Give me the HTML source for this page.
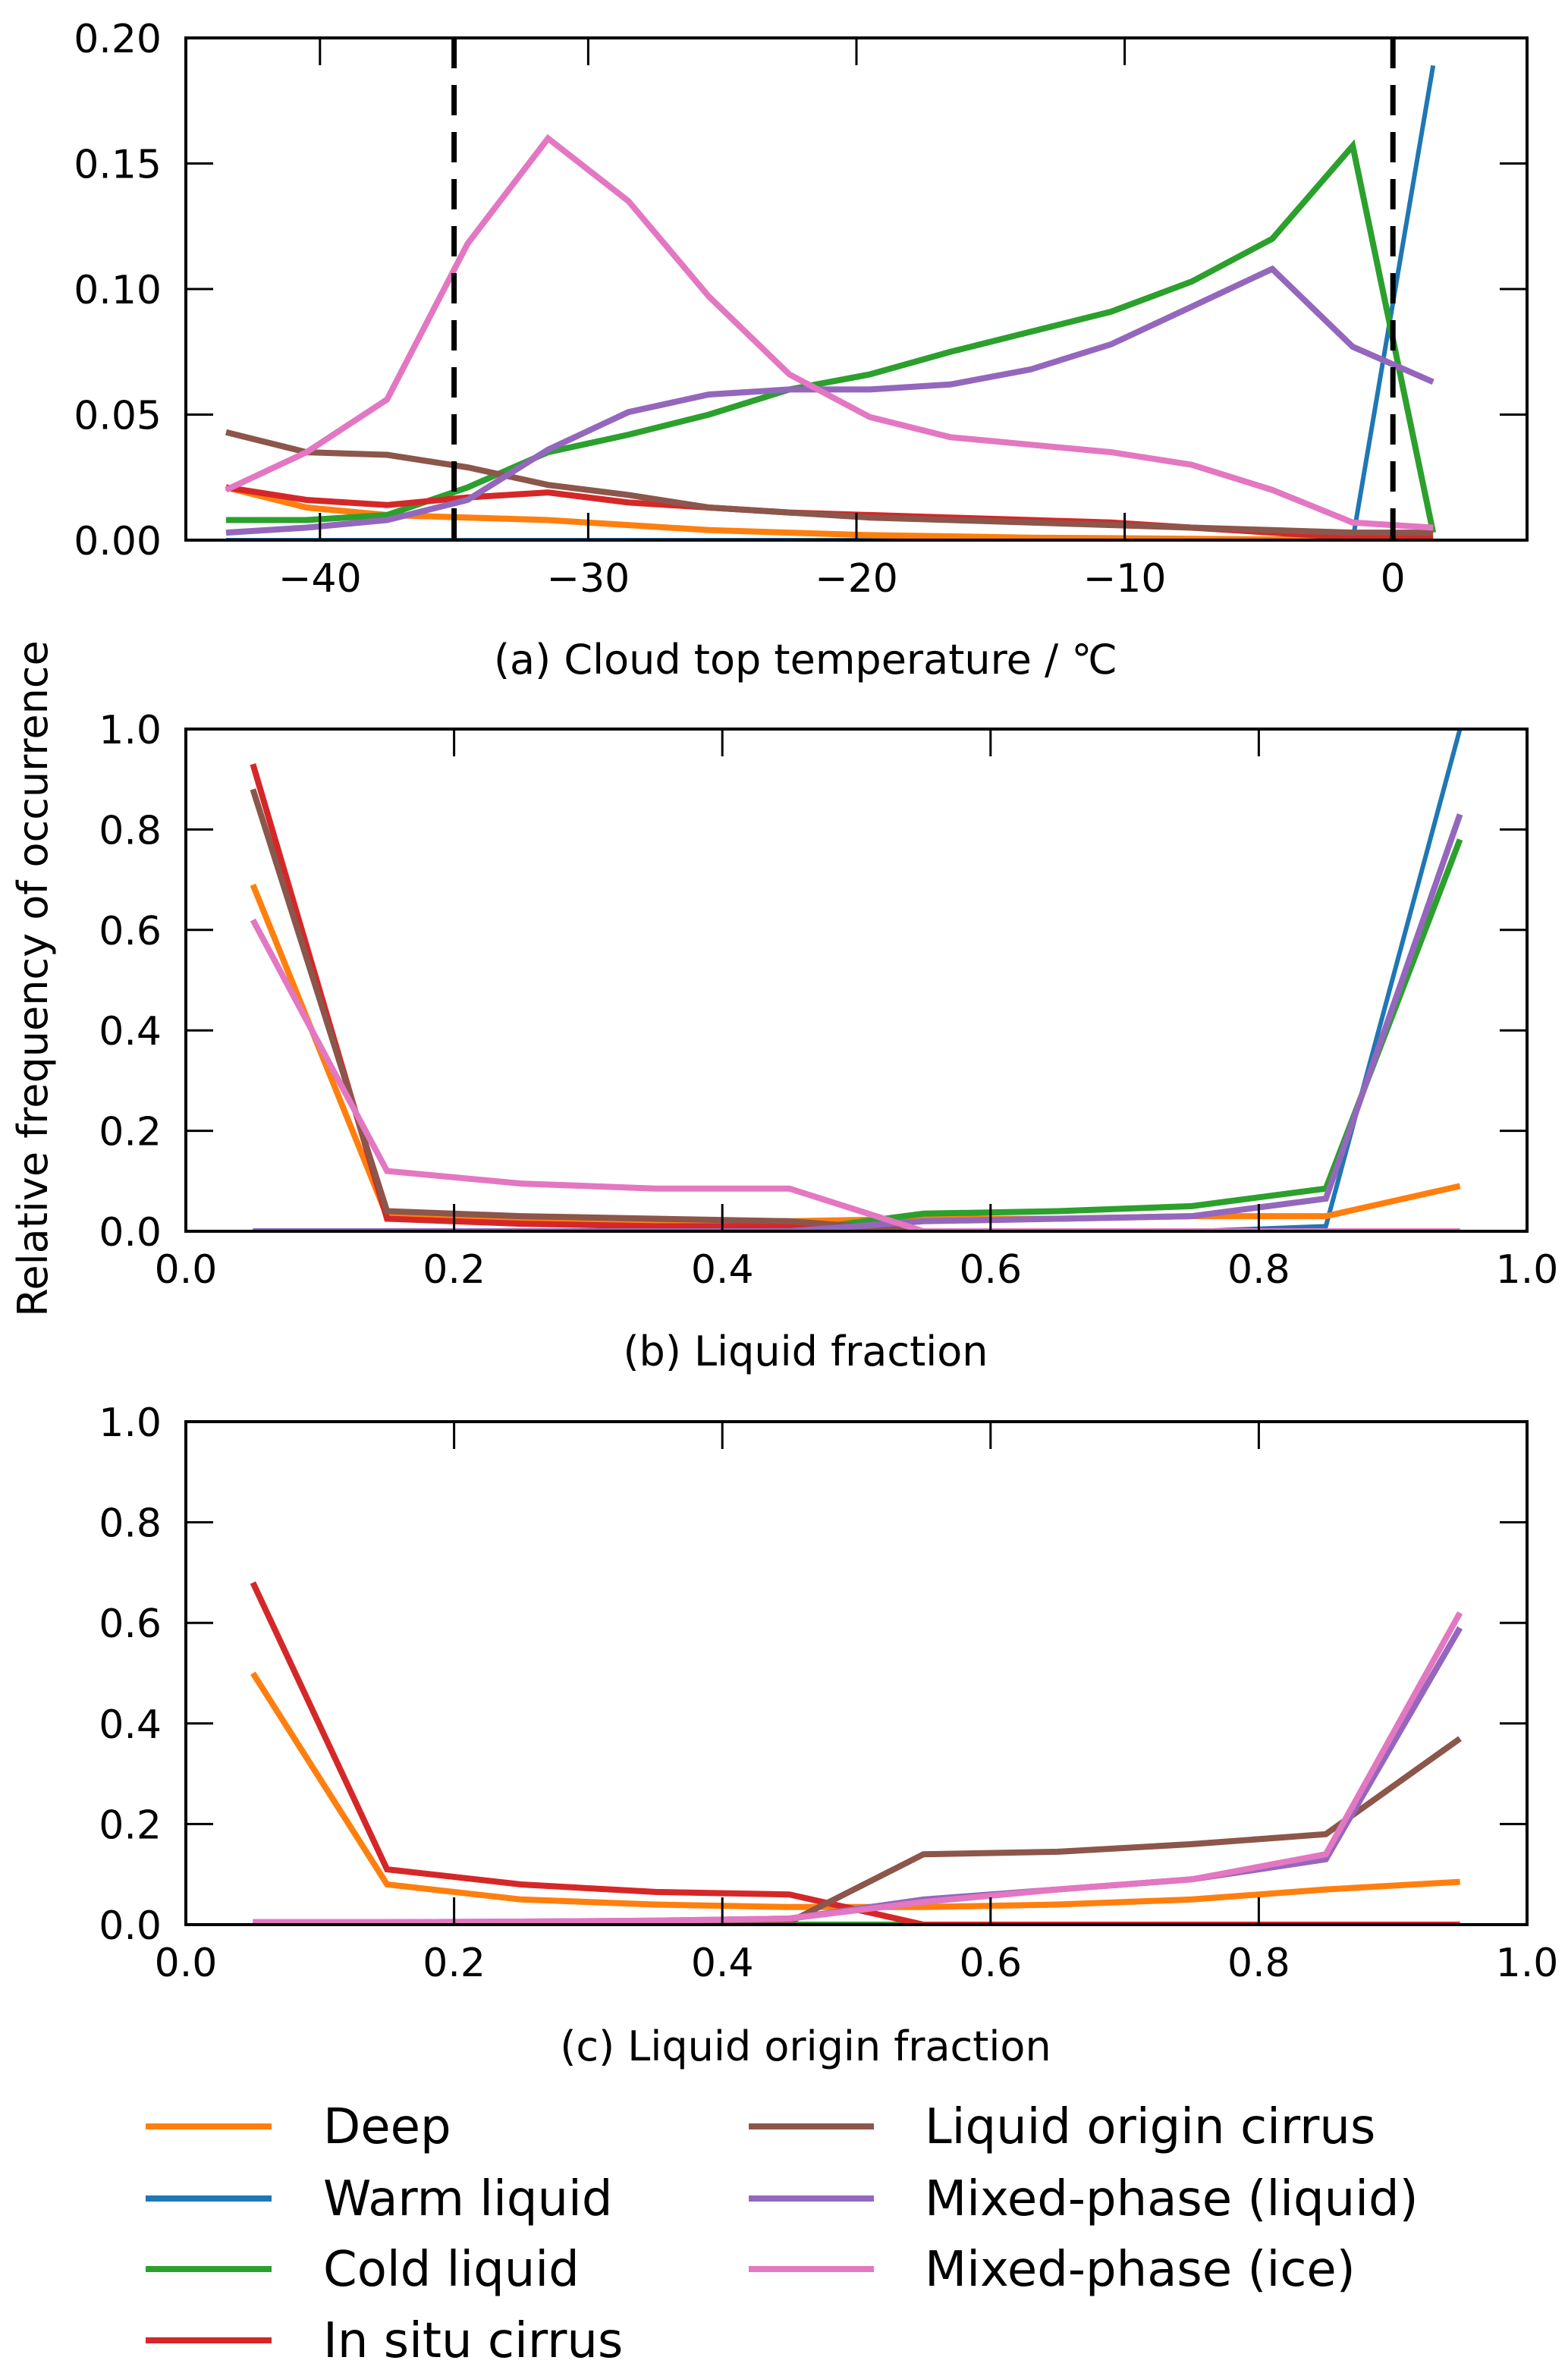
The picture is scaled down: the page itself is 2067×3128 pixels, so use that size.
<!DOCTYPE html>
<html><head><meta charset="utf-8"><style>
html,body{margin:0;padding:0;background:#fff}
svg{display:block}
text{font-family:"DejaVu Sans","Liberation Sans",sans-serif;fill:#000}
</style></head><body>
<svg id="fig" width="2067" height="3128" viewBox="0 0 2067 3128" xmlns="http://www.w3.org/2000/svg">
<text x="0" y="0" font-size="54" text-anchor="middle" transform="translate(62,1290) rotate(-90)">Relative frequency of occurrence</text>
</svg>
<script>
const colors={deep:'#ff7f0e',warm:'#1f77b4',cold:'#2ca02c',insitu:'#d62728',loc:'#8c564b',mpl:'#9467bd',mpi:'#e377c2'};
const order=['warm','deep','cold','insitu','loc','mpl','mpi'];
const xA=[-43.5,-40.5,-37.5,-34.5,-31.5,-28.5,-25.5,-22.5,-19.5,-16.5,-13.5,-10.5,-7.5,-4.5,-1.5,1.5];
const aDeep=[.021,.013,.010,.009,.008,.006,.004,.003,.002,.0015,.001,.0008,.0005,.0003,.0002,.0001];
const aWarm=[0,0,0,0,0,0,0,0,0,0,0,0,0,0,0,.189];
const aCold=[.008,.008,.010,.021,.035,.042,.050,.060,.066,.075,.083,.091,.103,.120,.157,.003];
const aInsitu=[.021,.016,.014,.017,.019,.015,.013,.011,.010,.009,.008,.007,.005,.003,.001,.001];
const aLoc=[.043,.035,.034,.029,.022,.018,.013,.011,.009,.008,.007,.006,.005,.004,.003,.003];
const aMpl=[.003,.005,.008,.016,.036,.051,.058,.060,.060,.062,.068,.078,.093,.108,.077,.063];
const aMpi=[.020,.035,.056,.118,.160,.135,.097,.066,.049,.041,.038,.035,.030,.020,.007,.005];
const xB=[.05,.15,.25,.35,.45,.55,.65,.75,.85,.95];
const bDeep=[.69,.03,.025,.02,.02,.025,.025,.03,.03,.09];
const bWarm=[0,0,0,0,0,0,0,0,.01,1.0];
const bCold=[0,0,0,0,0,.035,.04,.05,.085,.78];
const bInsitu=[.93,.025,.015,.01,.01,0,0,0,0,0];
const bLoc=[.88,.04,.03,.025,.02,.0,.0,.0,.0,.0];
const bMpl=[0,0,0,0,0,.02,.025,.03,.065,.83];
const bMpi=[.62,.12,.095,.085,.085,0,0,0,0,0];
const cDeep=[.50,.08,.05,.04,.035,.035,.04,.05,.07,.085];
const cWarm=[0,0,0,0,0,0,0,0,0,0];
const cCold=[0,0,0,0,0,0,0,0,0,0];
const cInsitu=[.68,.11,.08,.065,.06,0,0,0,0,0];
const cLoc=[0,0,0,0,.005,.14,.145,.16,.18,.37];
const cMpl=[.005,.005,.006,.008,.012,.05,.07,.09,.13,.59];
const cMpi=[.005,.005,.006,.008,.012,.045,.07,.09,.14,.62];
const aXTicks=[-40,-30,-20,-10,0];
const aYTicks=[0,.05,.10,.15,.20];
const bXTicks=[0,.2,.4,.6,.8,1.0];
const bYTicks=[0,.2,.4,.6,.8,1.0];
const legendLabels={deep:'Deep',warm:'Warm liquid',cold:'Cold liquid',insitu:'In situ cirrus',loc:'Liquid origin cirrus',mpl:'Mixed-phase (liquid)',mpi:'Mixed-phase (ice)'};
const NS='http://www.w3.org/2000/svg';
const svg=document.getElementById('fig');
function mk(tag,attrs,parent){const e=document.createElementNS(NS,tag);for(const k in attrs)e.setAttribute(k,attrs[k]);(parent||svg).appendChild(e);return e;}
function panel(id,L,R,T,B,xmin,xmax,ymin,ymax,xt,yt,xfmt,yfmt,xs,series,label,labelY,dashed){
  const g=mk('g',{});
  
  
  const sx=v=>L+(v-xmin)/(xmax-xmin)*(R-L);
  const sy=v=>B-(v-ymin)/(ymax-ymin)*(B-T);
  const clip=mk('clipPath',{id:id+'-clip'},g);mk('rect',{x:L,y:T,width:R-L,height:B-T},clip);
  const plot=mk('g',{'clip-path':'url(#'+id+'-clip)'},g);
  order.forEach(k=>{const vals=series[k];const pts=xs.map((x,i)=>sx(x).toFixed(1)+','+sy(vals[i]).toFixed(1)).join(' ');
    const pl=mk('polyline',{points:pts,fill:'none',stroke:colors[k],'stroke-width':k==='warm'?6:8,'stroke-linejoin':'miter'},plot);
    
    });
  if(dashed)dashed.forEach(v=>{const d=mk('line',{x1:sx(v),x2:sx(v),y1:T,y2:B,stroke:'#000','stroke-width':7,'stroke-dasharray':'40,22'},plot);
    
    });
  xt.forEach(v=>{const x=sx(v);mk('line',{x1:x,x2:x,y1:B,y2:B-36,stroke:'#000','stroke-width':3},g);mk('line',{x1:x,x2:x,y1:T,y2:T+36,stroke:'#000','stroke-width':3},g);
    const t=mk('text',{x:x,y:B+68,'font-size':52,'text-anchor':'middle'},g);t.textContent=xfmt(v);
    
    });
  yt.forEach(v=>{const y=sy(v);mk('line',{x1:L,x2:L+36,y1:y,y2:y,stroke:'#000','stroke-width':3},g);mk('line',{x1:R,x2:R-36,y1:y,y2:y,stroke:'#000','stroke-width':3},g);
    const t=mk('text',{x:L-32,y:y+19,'font-size':52,'text-anchor':'end'},g);t.textContent=yfmt(v);
    
    });
  const fr=mk('rect',{x:L,y:T,width:R-L,height:B-T,fill:'none',stroke:'#000','stroke-width':4},g);
  
  
  const lt=mk('text',{x:1062,y:labelY,'font-size':54,'text-anchor':'middle'},g);lt.textContent=label;
  
  
}
const neg=v=>v<0?'\u2212'+(-v):String(v);
panel('panel-a',245,2013,50,712,-45,5,0,.2,aXTicks,aYTicks,neg,v=>v.toFixed(2),xA,
 {deep:aDeep,warm:aWarm,cold:aCold,insitu:aInsitu,loc:aLoc,mpl:aMpl,mpi:aMpi},'(a)  Cloud top temperature /  \u2103',888,[-35,0]);
panel('panel-b',245,2013,961,1623,0,1,0,1,bXTicks,bYTicks,v=>v.toFixed(1),v=>v.toFixed(1),xB,
 {deep:bDeep,warm:bWarm,cold:bCold,insitu:bInsitu,loc:bLoc,mpl:bMpl,mpi:bMpi},'(b) Liquid fraction',1800,null);
panel('panel-c',245,2013,1874,2537,0,1,0,1,bXTicks,bYTicks,v=>v.toFixed(1),v=>v.toFixed(1),xB,
 {deep:cDeep,warm:cWarm,cold:cCold,insitu:cInsitu,loc:cLoc,mpl:cMpl,mpi:cMpi},'(c) Liquid origin fraction',2716,null);
const lg=mk('g',{});


const cols=[['deep','warm','cold','insitu'],['loc','mpl','mpi']];
const rowY=[2803,2898,2991,3085];const lineX=[[192,358],[987,1152]];const textX=[426,1219];
cols.forEach((c,ci)=>c.forEach((k,ri)=>{
  const e=mk('g',{},lg);
  
  
  mk('line',{x1:lineX[ci][0],x2:lineX[ci][1],y1:rowY[ri],y2:rowY[ri],stroke:colors[k],'stroke-width':8},e);
  const t=mk('text',{x:textX[ci],y:rowY[ri]+22,'font-size':64},e);t.textContent=legendLabels[k];
}));
</script>
</body></html>
